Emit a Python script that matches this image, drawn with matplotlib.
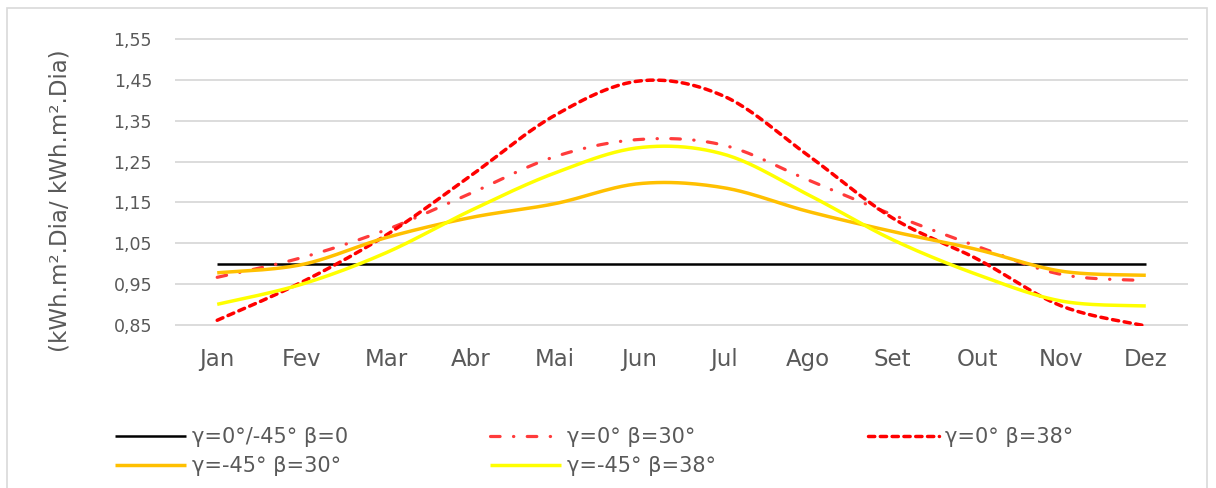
import matplotlib
matplotlib.use('Agg')
import matplotlib.pyplot as plt
import numpy as np
from matplotlib.patches import Rectangle

plt.rcParams['font.family'] = ['DejaVu Sans']

months = ['Jan', 'Fev', 'Mar', 'Abr', 'Mai', 'Jun',
          'Jul', 'Ago', 'Set', 'Out', 'Nov', 'Dez']

# ratios
flat_b0 = [1.0] * 12
g0_b30 = [0.967, 1.015, 1.083, 1.172, 1.262, 1.304,
          1.290, 1.205, 1.120, 1.043, 0.974, 0.959]
g0_b38 = [0.862, 0.955, 1.070, 1.215, 1.363, 1.447,
          1.410, 1.265, 1.112, 1.012, 0.897, 0.848]
g45_b30 = [0.978, 0.998, 1.064, 1.113, 1.147, 1.196,
           1.186, 1.128, 1.079, 1.035, 0.982, 0.972]
g45_b38 = [0.901, 0.950, 1.027, 1.130, 1.222, 1.284,
           1.268, 1.169, 1.059, 0.974, 0.909, 0.897]

labels = ['γ=0°/-45° β=0', 'γ=0° β=30°', 'γ=0° β=38°',
          'γ=-45° β=30°', 'γ=-45° β=38°']

W, H = 1216, 488
grey_txt = '#595959'


def smooth(y, n=24):
    # Bezier smoothing with Catmull-Rom tangents, like Excel's smoothed line
    y = np.asarray(y, dtype=float)
    x = np.arange(len(y), dtype=float)
    px = np.concatenate([[x[0]], x, [x[-1]]])
    py = np.concatenate([[y[0]], y, [y[-1]]])
    xs, ys = [], []
    t = np.linspace(0, 1, n, endpoint=False)
    b0, b1, b2, b3 = (1 - t) ** 3, 3 * t * (1 - t) ** 2, 3 * t ** 2 * (1 - t), t ** 3
    for i in range(1, len(px) - 2):
        c1x = px[i] + (px[i + 1] - px[i - 1]) / 6
        c1y = py[i] + (py[i + 1] - py[i - 1]) / 6
        c2x = px[i + 1] - (px[i + 2] - px[i]) / 6
        c2y = py[i + 1] - (py[i + 2] - py[i]) / 6
        xs.append(b0 * px[i] + b1 * c1x + b2 * c2x + b3 * px[i + 1])
        ys.append(b0 * py[i] + b1 * c1y + b2 * c2y + b3 * py[i + 1])
    xs.append([x[-1]])
    ys.append([y[-1]])
    return np.concatenate(xs), np.concatenate(ys)


fig = plt.figure(figsize=(W / 100, H / 100), dpi=100)
fig.patches.append(Rectangle((7 / W, -0.1), (1207 - 7) / W, 1.1 - 8 / H,
                             transform=fig.transFigure, fill=False,
                             edgecolor='#D9D9D9', lw=1.2))

ax = fig.add_axes([175 / W, 1 - 326 / H, (1188 - 175) / W, (326 - 38) / H])

styles = [
    dict(color='black', lw=1.8, ls='-'),
    dict(color='#FF3B3B', lw=2.3, ls=(0, (3, 4.2, 0.1, 4.2)), dash_capstyle='round'),
    dict(color='#FF0000', lw=2.5, ls=(0, (1.8, 1.6)), dash_capstyle='round'),
    dict(color='#FFC000', lw=2.5, ls='-'),
    dict(color='#FFFF00', lw=2.5, ls='-'),
]
series = [flat_b0, g0_b30, g0_b38, g45_b30, g45_b38]

handles = []
for vals, st, lab in zip(series, styles, labels):
    sx, sy = smooth(vals)
    ln, = ax.plot(sx, sy, label=lab, solid_capstyle='butt', **st)
    handles.append(ln)

ax.set_xlim(-0.5, 11.5)
ax.set_ylim(0.848, 1.552)
yt = np.round(np.arange(0.85, 1.551, 0.10), 2)
ax.set_yticks(yt)
ax.set_yticklabels([('%.2f' % v).replace('.', ',') for v in yt])
ax.set_xticks(range(12))
ax.set_xticklabels(months)
ax.yaxis.grid(True, color='#D9D9D9', lw=1.3)
ax.set_axisbelow(True)
for s in ax.spines.values():
    s.set_visible(False)
ax.tick_params(axis='both', length=0, colors=grey_txt)
ax.tick_params(axis='y', labelsize=12.5, pad=16.5)
ax.tick_params(axis='x', labelsize=16.5, pad=15.5)

fig.text(60 / W, 1 - 201 / H, '(kWh.m².Dia/ kWh.m².Dia)', rotation=90,
         ha='center', va='center', fontsize=16.5, color=grey_txt)

# legend in Excel layout: filled row-wise over three columns
cols = [([handles[0], handles[3]], 115), ([handles[1], handles[4]], 490),
        ([handles[2]], 868)]
for hs, xpx in cols:
    lg = fig.legend(handles=hs, labels=[h.get_label() for h in hs],
                    loc='upper left', bbox_to_anchor=(xpx / W, 1 - 427 / H),
                    frameon=False, borderpad=0, borderaxespad=0,
                    handlelength=3.4, handletextpad=0.3, labelspacing=0.45,
                    fontsize=15)
    for t in lg.get_texts():
        t.set_color(grey_txt)

fig.savefig('out.png', dpi=100)
